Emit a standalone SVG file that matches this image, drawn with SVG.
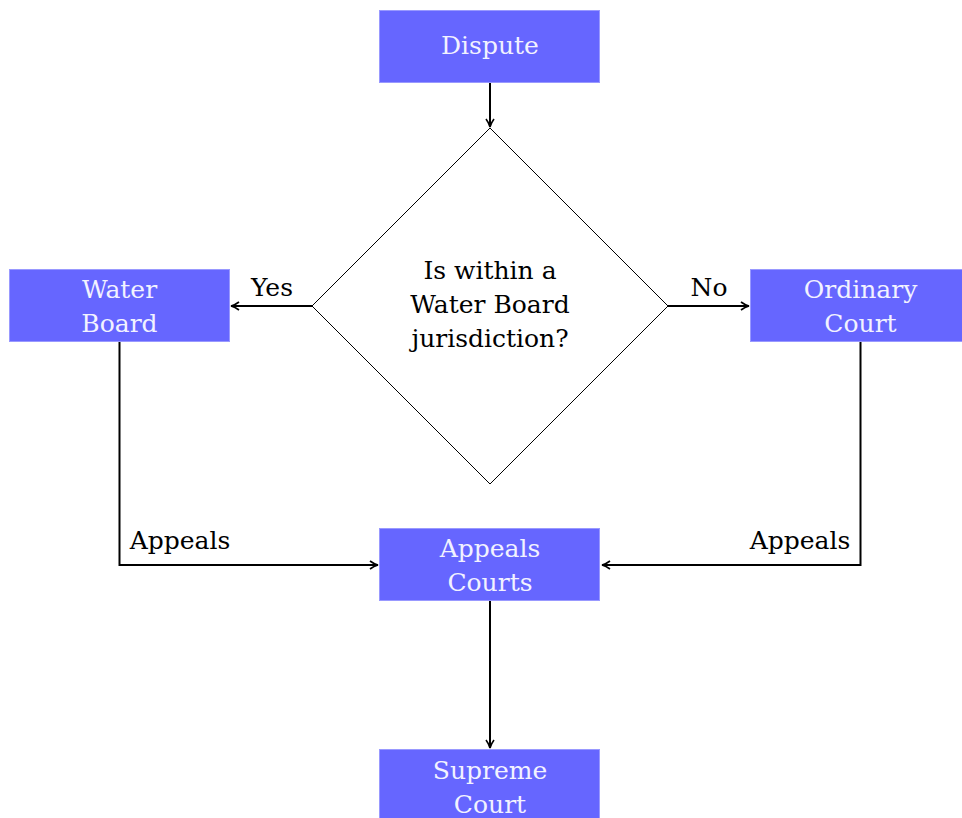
<svg xmlns="http://www.w3.org/2000/svg" width="962" height="818" viewBox="0 0 962 818">
<defs>
<marker id="ah" viewBox="0 0 10 10" refX="9" refY="5" markerWidth="10" markerHeight="10" markerUnits="userSpaceOnUse" orient="auto">
<path d="M1,1 Q5,4 9,5 Q5,6 1,9" fill="none" stroke="#000" stroke-width="1.6"/>
</marker>
<style>
.box{fill:#6666ff;stroke:#9999ff;stroke-width:1}
.bt{font-size:25px;fill:#f2f2ff;text-anchor:middle}
.t{font-size:25px;fill:#000;text-anchor:middle}
.c{fill:none;stroke:#000;stroke-width:2;marker-end:url(#ah)}
</style>
</defs>
<rect width="962" height="818" fill="#fff"/>
<g font-family="DejaVu Serif, serif">
<g id="dispute"><rect class="box" x="379.5" y="10.5" width="220" height="72"/><text class="bt" x="490" y="54">Dispute</text></g>
<g id="decision"><polygon points="490,128 668,306 490,484 312,306" fill="#fff" stroke="#000" stroke-width="1"/>
<text class="t" x="490" y="279">Is within a</text><text class="t" x="490" y="313">Water Board</text><text class="t" x="490" y="347">jurisdiction?</text></g>
<g id="waterboard"><rect class="box" x="9.5" y="269.5" width="220" height="72"/><text class="bt" x="119.5" y="298">Water</text><text class="bt" x="119.5" y="332">Board</text></g>
<g id="ordinary"><rect class="box" x="750.5" y="269.5" width="220" height="72"/><text class="bt" x="860.5" y="298">Ordinary</text><text class="bt" x="860.5" y="332">Court</text></g>
<g id="appeals"><rect class="box" x="379.5" y="528.5" width="220" height="72"/><text class="bt" x="490" y="557">Appeals</text><text class="bt" x="490" y="591">Courts</text></g>
<g id="supreme"><rect class="box" x="379.5" y="749.5" width="220" height="72"/><text class="bt" x="490" y="779">Supreme</text><text class="bt" x="490" y="813">Court</text></g>
<g id="connectors">
<path class="c" d="M490,83 V127"/>
<path class="c" d="M312,306 H231"/>
<path class="c" d="M668,306 H749"/>
<path class="c" d="M119.5,342 V565 H378"/>
<path class="c" d="M860.5,342 V565 H602"/>
<path class="c" d="M490,601 V748"/>
<text class="t" x="272" y="296">Yes</text>
<text class="t" x="709" y="296">No</text>
<text class="t" x="180" y="549">Appeals</text>
<text class="t" x="800" y="549">Appeals</text>
</g>
</g>
</svg>
